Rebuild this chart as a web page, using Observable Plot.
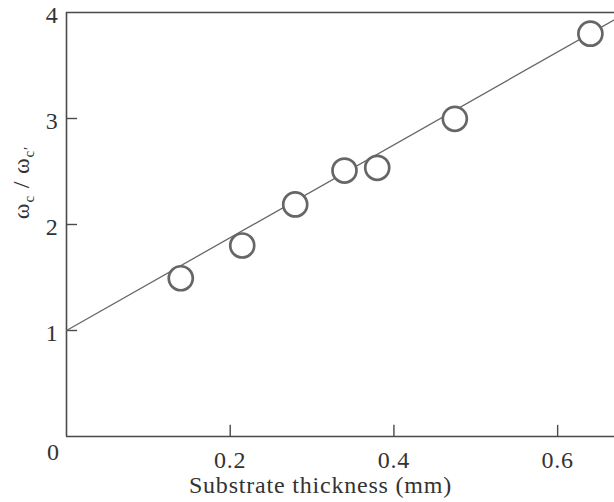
<!DOCTYPE html>
<html>
<head>
<meta charset="utf-8">
<script src="https://cdn.jsdelivr.net/npm/d3@7"></script>
<script src="https://cdn.jsdelivr.net/npm/@observablehq/plot@0.6"></script>
<style>
  html, body { margin: 0; padding: 0; background: #fff; overflow: hidden; }
</style>
</head>
<body>
<div id="chart"></div>
<script>
// Measured points: substrate thickness (mm) vs ω_c / ω'_c
const thickness = [0.1396, 0.2147, 0.2794, 0.3396, 0.3796, 0.4744, 0.640];
const ratio     = [1.493, 1.802, 2.189, 2.509, 2.535, 2.997, 3.80];
// Linear fit line
const fitIntercept = 1.0;
const fitSlope = 4.38;
const fitX = [0, 0.7];
// Ticks and labels
const xTicks = [0.2, 0.4, 0.6];
const yTicks = [1, 2, 3, 4];
const cornerLabel = ["0"];
const xLabel = "Substrate thickness (mm)";
const yLabelPlain = "ωc / ω′c";

const points = thickness.map((x, i) => ({x, y: ratio[i]}));
const fit = fitX.map(x => ({x, y: fitIntercept + fitSlope * x}));

const frameColor = "#4a4a4a";
const markColor = "#666";
const fontFamily = "'Liberation Serif', 'Times New Roman', serif";

const svg = Plot.plot({
  width: 614,
  height: 502,
  marginLeft: 66,
  marginRight: -25,
  marginTop: 12,
  marginBottom: 66,
  style: {fontFamily, fontSize: "24px", color: "#333", background: "#fff", overflow: "hidden"},
  x: {domain: [0, 0.7]},
  y: {domain: [0, 4]},
  marks: [
    Plot.ruleX([0], {stroke: frameColor, strokeWidth: 1.6}),
    Plot.ruleY([0, 4], {stroke: frameColor, strokeWidth: 1.6}),
    Plot.ruleX(xTicks, {x: d => d, y1: 0, y2: 0.105, stroke: frameColor, strokeWidth: 1.4}),
    Plot.ruleY(yTicks.slice(0, 3), {y: d => d, x1: 0, x2: 0.0135, stroke: frameColor, strokeWidth: 1.4}),
    Plot.axisX({ticks: xTicks, tickSize: 0, tickPadding: 14, label: null, fontSize: 24, tickFormat: d => d.toFixed(1)}),
    Plot.axisY({ticks: yTicks, tickSize: 0, tickPadding: 8, label: null, fontSize: 24, dy: 3, tickFormat: d3.format("d")}),
    Plot.text(cornerLabel, {text: d => d, frameAnchor: "bottom-left", dx: -13, dy: 16, fontSize: 24, textAnchor: "middle", lineAnchor: "middle"}),
    Plot.text([xLabel], {text: d => d, frameAnchor: "bottom-left", dx: 254, dy: 49, fontSize: 24, textAnchor: "middle", lineAnchor: "middle"}),
    Plot.text([yLabelPlain], {text: d => d, frameAnchor: "left", dx: -45, dy: -42, rotate: -90, fontSize: 24, textAnchor: "middle", lineAnchor: "middle"}),
    Plot.line(fit, {x: "x", y: "y", stroke: markColor, strokeWidth: 1.3}),
    Plot.dot(points, {x: "x", y: "y", r: 12, fill: "#fff", stroke: markColor, strokeWidth: 2.7})
  ]
});

// Letter spacing to mimic the wider serif face of the reference
d3.select(svg).selectAll("text").style("letter-spacing", "0.8px");

d3.select(svg).selectAll("text").filter(function() { return this.textContent === yLabelPlain; }).each(function() {
  const t = d3.select(this);
  t.text(null);
  t.append("tspan").text("ω");
  t.append("tspan").attr("font-size", 15).attr("dy", 5).text("c");
  t.append("tspan").attr("dy", -5).text(" / ω");
  t.append("tspan").attr("font-size", 15).attr("dy", 5).text("c′");
});

document.getElementById("chart").appendChild(svg);
</script>
</body>
</html>
